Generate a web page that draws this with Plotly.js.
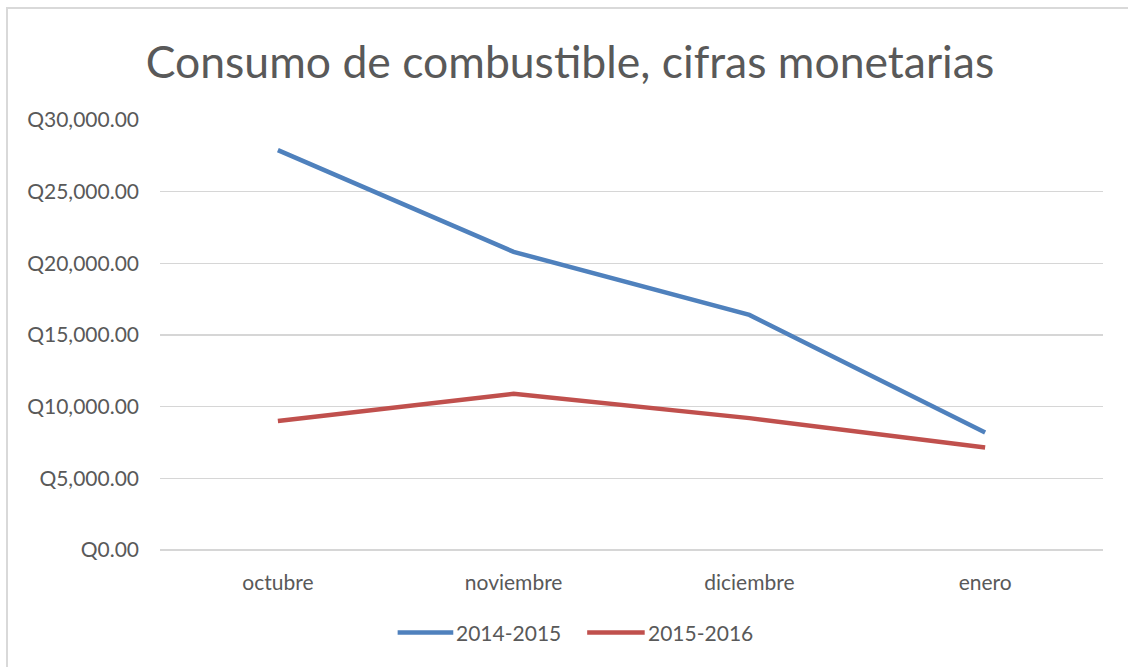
<!DOCTYPE html>
<html>
<head>
<meta charset="utf-8">
<script src="https://cdn.plot.ly/plotly-3.0.1.min.js"></script>
<style>
html,body{margin:0;padding:0;background:#fff;}
#wrap{position:relative;width:1128px;height:667px;overflow:hidden;}
#chart{position:absolute;left:0;top:0;width:1128px;height:667px;}
#frame{position:absolute;left:6px;top:7px;width:1200px;height:700px;border-left:2px solid #d9d9d9;border-top:2px solid #d9d9d9;pointer-events:none;}
</style>
</head>
<body>
<div id="wrap"><div id="chart"></div><div id="frame"></div></div>
<script>
var categories = ["octubre", "noviembre", "diciembre", "enero"];
var seriesNames = ["2014-2015", "2015-2016"];
var values2014_2015 = [27900, 20800, 16400, 8200];
var values2015_2016 = [9000, 10900, 9200, 7150];
var yTickStep = 5000;
var yMax = 30000;
var currencyPrefix = "Q";

var colors = ["#4F81BD", "#C0504D"];
var FONT = "Lato, 'Liberation Sans', sans-serif";
var TXT = "#595959";

var traces = [
  {x: categories, y: values2014_2015, name: seriesNames[0], type: "scatter", mode: "lines",
   line: {color: colors[0], width: 4.5}, showlegend: false},
  {x: categories, y: values2015_2016, name: seriesNames[1], type: "scatter", mode: "lines",
   line: {color: colors[1], width: 4.5}, showlegend: false}
];

// custom legend (wide line samples like the original)
var legY = -0.192;
var legendItems = [
  {x0: 0.252, x1: 0.311, tx: 0.312},
  {x0: 0.453, x1: 0.514, tx: 0.515}
];
var shapes = [], annotations = [];
legendItems.forEach(function(it, i){
  shapes.push({type: "line", xref: "paper", yref: "paper", x0: it.x0, x1: it.x1, y0: legY, y1: legY,
    line: {color: colors[i], width: 4.5}});
  annotations.push({xref: "paper", yref: "paper", x: it.tx, y: legY, xanchor: "left", yanchor: "middle",
    text: seriesNames[i], showarrow: false, font: {family: FONT, size: 21, color: TXT}});
});

var layout = {
  width: 1128, height: 667,
  margin: {l: 160, r: 25, t: 120, b: 117, pad: 0},
  paper_bgcolor: "#ffffff", plot_bgcolor: "#ffffff",
  title: {text: "Consumo de combustible, cifras monetarias", xref: "container", yref: "container",
    x: 0.5053, y: 0.907, xanchor: "center", yanchor: "middle",
    font: {family: FONT, size: 44.5, color: TXT}},
  xaxis: {type: "category", range: [-0.5, 3.5], showgrid: false, zeroline: false, showline: false,
    ticks: "", ticklabelstandoff: 18, tickfont: {family: FONT, size: 21, color: TXT}, fixedrange: true},
  yaxis: {range: [0, yMax], tickmode: "linear", tick0: 0, dtick: yTickStep,
    tickprefix: currencyPrefix, showtickprefix: "all", tickformat: ",.2f",
    showgrid: true, gridcolor: "#d6d6d6", gridwidth: 1.5, zeroline: true, zerolinecolor: "#d6d6d6", zerolinewidth: 1.5,
    showline: false, ticks: "", ticklabelstandoff: 20, tickfont: {family: FONT, size: 21, color: TXT}, fixedrange: true},
  shapes: shapes,
  annotations: annotations,
  showlegend: false
};

Plotly.newPlot("chart", traces, layout, {displayModeBar: false, staticPlot: true});
</script>
</body>
</html>
